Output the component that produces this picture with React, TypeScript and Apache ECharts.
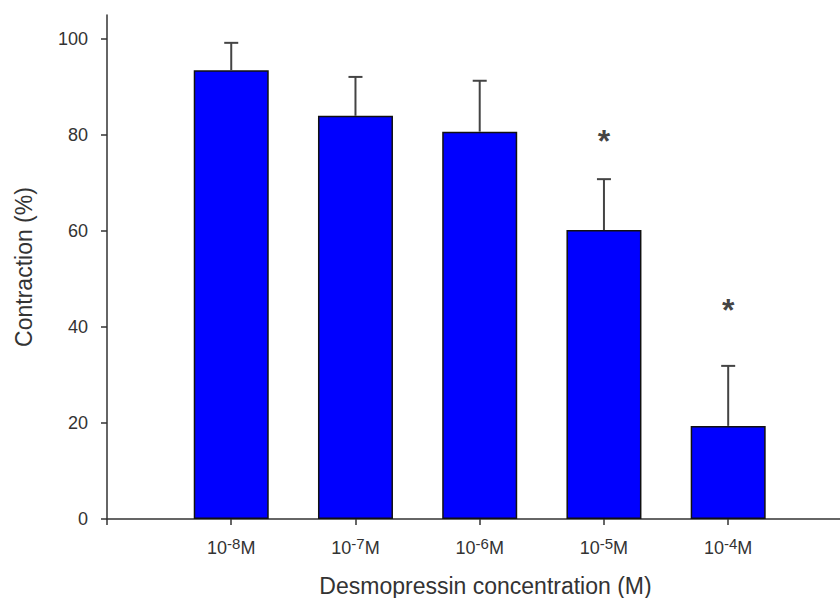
import React, { useEffect, useRef } from "react";
import * as echarts from "echarts";

const categories = ["-8", "-7", "-6", "-5", "-4"];
const meanValues = [93.5, 84.0, 80.7, 60.2, 19.4];
const errorValues = [5.7, 8.1, 10.6, 10.6, 12.5];
const significant = [false, false, false, true, true];
const asteriskValues = [0, 0, 0, 80.2, 45.0];
const yTicks = [0, 20, 40, 60, 80, 100];

export default function App() {
  const ref = useRef<HTMLDivElement>(null);
  useEffect(() => {
    if (!ref.current) return;
    const chart = echarts.init(ref.current, null, { renderer: "svg" });
    const barData = categories.map((_, i) => [i + 1, meanValues[i]]);
    const errData = categories.map((_, i) => [i + 1, meanValues[i], meanValues[i] + errorValues[i]]);
    const starData = categories
      .map((_, i) => (significant[i] ? [i + 1, asteriskValues[i]] : null))
      .filter((d) => d !== null);
    const axisColor = "#333";
    const font = "Liberation Sans, Arial, sans-serif";
    chart.setOption({
      animation: false,
      backgroundColor: "#ffffff",
      grid: { left: 107, right: 0, top: 15, bottom: 79, containLabel: false, outerBoundsMode: "none" },
      xAxis: {
        type: "value",
        min: 0,
        max: 5.9,
        interval: 1,
        splitLine: { show: false },
        axisLine: { show: true, lineStyle: { color: axisColor, width: 1.5 } },
        axisTick: { show: true, length: 6, lineStyle: { color: axisColor, width: 1.5 } },
        axisLabel: {
          showMaxLabel: false,
          showMinLabel: true,
          margin: 17,
          formatter: (v: number) => {
            const i = Math.round(v) - 1;
            if (i < 0 || i >= categories.length || Math.abs(v - Math.round(v)) > 1e-6) return "";
            return `{b|10}{s|${categories[i]}}{b|M}`;
          },
          rich: {
            b: { fontSize: 18, fontFamily: font, color: axisColor, lineHeight: 21, verticalAlign: "bottom" },
            s: { fontSize: 15, fontFamily: font, color: axisColor, lineHeight: 11, verticalAlign: "top" },
          },
        },
        name: "Desmopressin concentration (M)",
        nameLocation: "middle",
        nameGap: 55,
        nameTextStyle: { fontSize: 23, fontFamily: font, color: axisColor, padding: [0, 0, 0, 24] },
      },
      yAxis: {
        type: "value",
        min: 0,
        max: 105,
        interval: 20,
        splitLine: { show: false },
        axisLine: { show: true, lineStyle: { color: axisColor, width: 1.5 } },
        axisTick: { show: true, length: 6, lineStyle: { color: axisColor, width: 1.5 } },
        axisLabel: {
          showMaxLabel: false,
          margin: 19,
          fontSize: 18,
          fontFamily: font,
          color: axisColor,
          formatter: (v: number) => (yTicks.includes(v) ? String(v) : ""),
        },
        name: "Contraction (%)",
        nameLocation: "middle",
        nameRotate: 90,
        nameGap: 72,
        nameTextStyle: { fontSize: 23, fontFamily: font, color: axisColor },
      },
      series: [
        {
          type: "bar",
          data: barData,
          barWidth: 75,
          itemStyle: { color: "#0000ff", borderColor: "#111", borderWidth: 1.5 },
          z: 2,
        },
        {
          type: "custom",
          data: errData,
          z: 3,
          renderItem: (params: any, api: any) => {
            const x = api.value(0);
            const lo = api.coord([x, api.value(1)]);
            const hi = api.coord([x, api.value(2)]);
            const cap = 7;
            const style = { stroke: "#444", lineWidth: 2 };
            return {
              type: "group",
              children: [
                { type: "line", shape: { x1: lo[0], y1: lo[1], x2: hi[0], y2: hi[1] }, style },
                { type: "line", shape: { x1: hi[0] - cap, y1: hi[1], x2: hi[0] + cap, y2: hi[1] }, style },
              ],
            };
          },
        },
        {
          type: "scatter",
          data: starData,
          symbolSize: 0,
          z: 4,
          label: {
            show: true,
            position: "inside",
            formatter: "*",
            fontSize: 32,
            fontWeight: "bold",
            fontFamily: font,
            color: "#111",
            offset: [0, 7],
          },
        },
      ],
    });
    return () => chart.dispose();
  }, []);
  return <div ref={ref} style={{ position: "fixed", left: 0, top: 0, width: 840, height: 598 }} />;
}
